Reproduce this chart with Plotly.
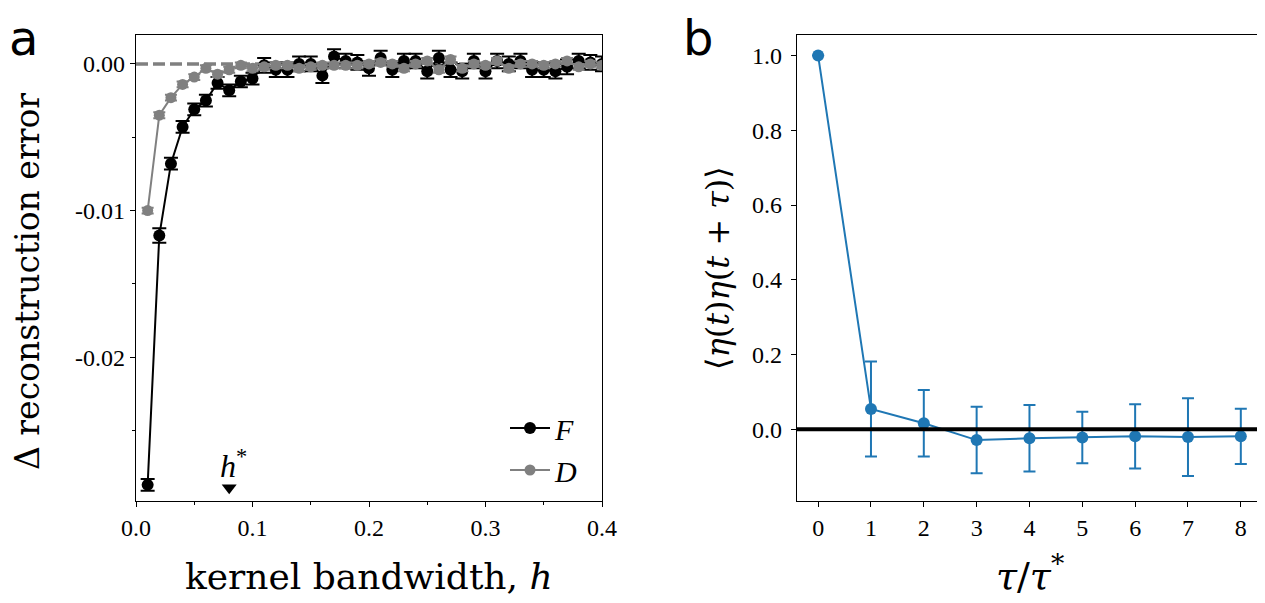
import plotly.graph_objects as go

# ---------------- Panel a data ----------------
h_vals = [0.01, 0.02, 0.03, 0.04, 0.05, 0.06, 0.07, 0.08, 0.09, 0.10,
          0.11, 0.12, 0.13, 0.14, 0.15, 0.16, 0.17, 0.18, 0.19, 0.20,
          0.21, 0.22, 0.23, 0.24, 0.25, 0.26, 0.27, 0.28, 0.29, 0.30,
          0.31, 0.32, 0.33, 0.34, 0.35, 0.36, 0.37, 0.38, 0.39, 0.40]

F_vals = [-0.0287, -0.0117, -0.0068, -0.0043, -0.0031, -0.0025, -0.0013, -0.0018, -0.0012, -0.0010,
          -0.0001, -0.0004, -0.0004, 0.0000, 0.0000, -0.0008, 0.0005, 0.0002, 0.0001, -0.0003,
          0.0004, -0.0004, 0.0002, 0.0002, -0.0005, 0.0004, -0.0004, -0.0005, 0.0002, -0.0005,
          0.0002, 0.0000, 0.0002, -0.0004, -0.0004, -0.0005, -0.0002, 0.0002, 0.0001, 0.0000]

F_err = [0.0004, 0.0005, 0.0004, 0.0004, 0.0004, 0.0004, 0.0004, 0.0004, 0.0004, 0.0004,
         0.0005, 0.0005, 0.0005, 0.0005, 0.0005, 0.0005, 0.0005, 0.0005, 0.0005, 0.0005,
         0.0005, 0.0005, 0.0005, 0.0005, 0.0005, 0.0005, 0.0005, 0.0005, 0.0005, 0.0005,
         0.0005, 0.0005, 0.0005, 0.0005, 0.0005, 0.0005, 0.0005, 0.0005, 0.0005, 0.0005]

D_vals = [-0.0100, -0.0035, -0.0023, -0.0014, -0.0009, -0.0003, -0.0007, -0.0004, -0.0001, -0.0003,
          -0.0002, -0.0001, -0.0001, -0.0003, -0.0002, -0.0001, -0.0001, -0.0001, -0.0001, 0.0000,
          0.0001, 0.0000, -0.0003, 0.0000, 0.0002, -0.0004, 0.0003, -0.0003, 0.0000, -0.0001,
          0.0002, -0.0003, 0.0000, 0.0000, -0.0001, 0.0000, 0.0002, -0.0002, 0.0000, -0.0001]

D_err = [0.0002] * 40

h_star = 0.08
h_star_marker_y = -0.0289
h_star_label_y = -0.0273

a_ytickvals = [0.0, -0.01, -0.02, -0.03]
a_yticktext = ["0.00", "-0.01", "-0.02", "-0.03"]
a_xtickvals = [0.0, 0.1, 0.2, 0.3, 0.4]
a_xticktext = ["0.0", "0.1", "0.2", "0.3", "0.4"]

# ---------------- Panel b data ----------------
tau = [0, 1, 2, 3, 4, 5, 6, 7, 8]
corr = [1.0, 0.054, 0.016, -0.029, -0.024, -0.022, -0.019, -0.021, -0.019]
corr_err = [0.0, 0.127, 0.089, 0.089, 0.089, 0.069, 0.086, 0.104, 0.074]
b_ytickvals = [0.0, 0.2, 0.4, 0.6, 0.8, 1.0]
b_yticktext = ["0.0", "0.2", "0.4", "0.6", "0.8", "1.0"]

TICKFONT = "Liberation Serif"
LABELFONT = "DejaVu Serif"
BLUE = "#1f77b4"
GRAY = "#808080"

W, H = 1257, 595

fig = go.Figure()

fig.add_trace(go.Scatter(
    x=h_vals, y=F_vals, mode="lines+markers", name="<i>F</i>", legendgroup="F",
    line=dict(color="black", width=2),
    marker=dict(color="black", size=12),
    error_y=dict(type="data", array=F_err, color="black", thickness=2, width=7),
    xaxis="x", yaxis="y"))

fig.add_trace(go.Scatter(
    x=h_vals, y=D_vals, mode="lines+markers", name="<i>D</i>", legendgroup="D",
    line=dict(color=GRAY, width=2),
    marker=dict(color=GRAY, size=11),
    error_y=dict(type="data", array=D_err, color=GRAY, thickness=2, width=6),
    xaxis="x", yaxis="y"))

fig.add_trace(go.Scatter(
    x=[h_star], y=[h_star_marker_y], mode="markers", showlegend=False,
    marker=dict(symbol="triangle-down", color="black", size=13),
    xaxis="x", yaxis="y"))

fig.add_trace(go.Scatter(
    x=tau, y=corr, mode="lines+markers", showlegend=False,
    line=dict(color=BLUE, width=2),
    marker=dict(color=BLUE, size=12),
    error_y=dict(type="data", array=corr_err, color=BLUE, thickness=2, width=6),
    xaxis="x2", yaxis="y2"))

# reference lines
fig.add_shape(type="line", xref="x domain", yref="y", x0=0, x1=1, y0=0, y1=0,
              line=dict(color=GRAY, width=3.5, dash="12px,5px"), layer="below")
fig.add_shape(type="line", xref="x2 domain", yref="y2", x0=0, x1=1, y0=0, y1=0,
              line=dict(color="black", width=4), layer="above")

axis_common = dict(showline=True, linecolor="black", linewidth=1.3, mirror=True,
                   ticks="outside", ticklen=5, tickwidth=1.2, tickcolor="black",
                   showgrid=False, zeroline=False, automargin=False,
                   tickfont=dict(family=TICKFONT, size=24, color="black"))

ydom = [102 / H, 568 / H]

fig.update_layout(
    width=W, height=H,
    margin=dict(l=0, r=0, t=0, b=0, autoexpand=False),
    paper_bgcolor="white", plot_bgcolor="white",
    xaxis=dict(domain=[128 / W, 594 / W], range=[0.0, 0.4],
               tickvals=a_xtickvals, ticktext=a_xticktext,
               minor=dict(dtick=0.05, tick0=0, ticks="outside", ticklen=3, tickcolor="black"),
               anchor="y", **axis_common),
    yaxis=dict(domain=ydom, range=[-0.0298, 0.00197],
               tickvals=a_ytickvals, ticktext=a_yticktext,
               minor=dict(dtick=0.005, tick0=0, ticks="outside", ticklen=3, tickcolor="black"),
               anchor="x", **axis_common),
    xaxis2=dict(domain=[789 / W, 1255 / W], range=[-0.4, 8.42],
                tickvals=tau, ticktext=[str(t) for t in tau],
                anchor="y2", **axis_common),
    yaxis2=dict(domain=ydom, range=[-0.192, 1.055],
                tickvals=b_ytickvals, ticktext=b_yticktext, ticklabelstandoff=4,
                anchor="x2", **axis_common),
    legend=dict(x=497 / W, y=1 - 394 / H, xanchor="left", yanchor="top",
                bgcolor="rgba(0,0,0,0)", borderwidth=0,
                font=dict(family=TICKFONT, size=30, color="black"),
                itemwidth=40, tracegroupgap=0, traceorder="grouped"),
    showlegend=True,
)

def label(text, xpx, ypx, size, angle=0, family=LABELFONT, yanchor="middle"):
    fig.add_annotation(x=xpx / W, y=1 - ypx / H, xref="paper", yref="paper",
                       text=text, showarrow=False, textangle=angle,
                       xanchor="center", yanchor=yanchor,
                       font=dict(family=family, size=size, color="black"))

# axis titles (positions in figure pixels)
label("Δ reconstruction error", 20, 274, 33, angle=-90)
label("kernel bandwidth, <i>h</i>", 361, 568, 36)
label("⟨<i>η</i>(<i>t</i>)<i>η</i>(<i>t</i> + <i>τ</i>)⟩", 710, 260, 32, angle=-90)
label("<i>τ</i>/<i>τ</i><sup>*</sup>", 1022, 565, 38)

# panel letters
label("a", 15, 0, 48, family="DejaVu Sans", yanchor="top")
label("b", 690, 0, 48, family="DejaVu Sans", yanchor="top")

fig.add_annotation(x=h_star + 0.004, y=h_star_label_y, xref="x", yref="y",
                   text="<i>h</i><sup>*</sup>", showarrow=False,
                   font=dict(family=TICKFONT, size=32, color="black"))

fig.write_html("out.html")
